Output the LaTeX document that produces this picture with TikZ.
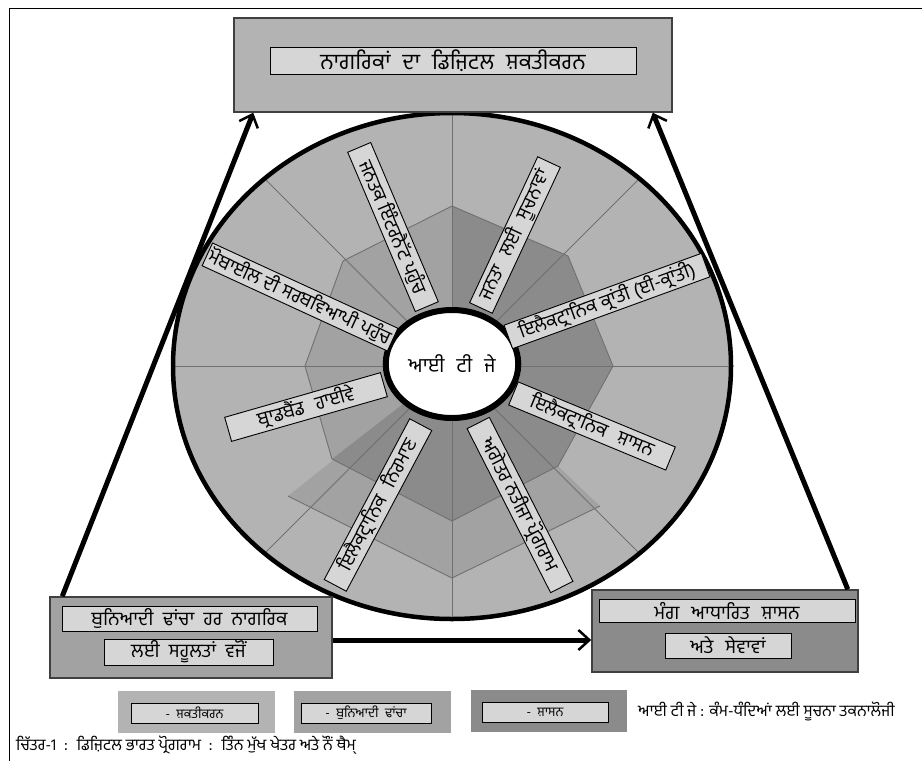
\documentclass[tikz,border=0pt]{standalone}
\usepackage{fontspec}
\newfontfamily\gur[Script=Gurmukhi]{Hind Jalandhar}
\usetikzlibrary{arrows.meta,shapes.geometric}
\definecolor{lgray}{HTML}{B3B3B3}
\definecolor{mgray}{HTML}{A2A2A2}
\definecolor{dgray}{HTML}{8B8B8B}
\definecolor{tgray}{HTML}{D6D6D6}
\definecolor{rimgray}{HTML}{707070}
\newcommand\gap{\hspace{12pt}}
\tikzset{panel/.style={draw=black!75,line width=1.5pt},
  tag/.style={draw,fill=tgray,line width=0.9pt,inner sep=0pt,minimum height=25pt,font=\gur\fontsize{19}{19}\selectfont},
  key/.style={draw,fill=tgray,line width=0.9pt,inner sep=0pt,minimum height=20pt,font=\gur\fontsize{13}{13}\selectfont},
  rim/.style={draw=rimgray,line width=0.9pt},
  bigarrow/.style={line width=5pt,-{Straight Barb[length=11pt,width=20pt,line width=2.5pt]}}}

\begin{document}
\begin{tikzpicture}[x=1pt,y=-1pt]
	\useasboundingbox (0,0) rectangle (922,761);
	\draw[line width=1pt] (9,761) |- (922,8);
	
	\coordinate (o) at (452,366);
	\begin{scope}[shift={(452,366)}]
		\clip (0,0) ellipse [x radius=281pt,y radius=255pt];
		\fill[lgray] (-300,-300) rectangle (300,300);
		\fill[mgray] (0,0) -- (-164,130) -- (0,212) -- (148,140) -- cycle;
		\fill[mgray] (0,0) -- (0,-160) -- (-109,-105) -- (-147,0) -- (-120,93) -- cycle;
		\fill[dgray] (0,0) -- (-120,93) -- (0,155) -- (106,100) -- (161,0) -- (116,-110) -- (0,-160) -- cycle;
		\foreach \a in {0,45,...,315} \draw[rim] (0,0) -- (\a:400);
		\draw[rim] (161,0) -- (116,-110) -- (0,-160) -- (-109,-105) -- (-147,0) -- (-120,93) -- (0,155) -- (106,100) -- cycle;
		\draw[rim] (-164,130) -- (0,212) -- (148,140);
	\end{scope}
	\draw[line width=4.5pt] (o) ellipse [x radius=279pt,y radius=253pt];
	\node[ellipse,draw,fill=white,line width=6pt,minimum width=118pt,minimum height=108pt,font=\gur\fontsize{20}{20}\selectfont] (itj) at (452,364) {ਆਈ\gap ਟੀ\gap ਜੇ};
	
	\foreach \n/\x/\y/\a/\w/\t in {
		pub/393/227/-67/173/ਜਨਤਕ ਇੰਟਰਨੈੱਟ ਪਹੁੰਚ,
		info/515/235/65/161/ਜਨਤਾ\gap ਲਈ\gap ਸੂਚਨਾਵਾਂ,
		kranti/607/301/20/210/ਇਲੈਕਟ੍ਰਾਨਿਕ ਕ੍ਰਾਂਤੀ (ਈ-ਕ੍ਰਾਂਤੀ),
		egov/592/426/-22.5/170/ਇਲੈਕਟ੍ਰਾਨਿਕ\gap ਸ਼ਾਸਨ,
		early/520/505/-63/184/ਅਗੇਤਰ ਨਤੀਜਾ ਪ੍ਰੋਗਰਾਮ,
		manuf/378/505/62/182/ਇਲੈਕਟ੍ਰਾਨਿਕ\gap ਨਿਰਮਾਣ,
		broad/306/407/16/162/ਬ੍ਰਾਡਬੈਂਡ\gap ਹਾਈਵੇ,
		mobile/300/297/-24.7/204/ਮੋਬਾਈਲ ਦੀ ਸਰਬਵਿਆਪੀ ਪਹੁੰਚ}
		\node[tag,rotate=\a,minimum width=\w pt] (\n) at (\x,\y) {\t};
	
	\node[panel,fill=lgray,minimum width=438pt,minimum height=94pt] (top) at (453,65) {};
	\node[tag,minimum width=366pt,minimum height=27pt,font=\gur\fontsize{22}{22}\selectfont] (topt) at (453,60.5) {ਨਾਗਰਿਕਾਂ\gap ਦਾ\gap ਡਿਜ਼ਿਟਲ\gap ਸ਼ਕਤੀਕਰਨ};
	
	\node[panel,fill=mgray,minimum width=282pt,minimum height=81pt] (bl) at (191,637.5) {};
	\node[tag,minimum width=255pt] (blt) at (189.5,618.5) {ਬੁਨਿਆਦੀ \ ਢਾਂਚਾ \ ਹਰ \ ਨਾਗਰਿਕ};
	\node[tag,minimum width=169pt,minimum height=26pt] (blb) at (188.5,652) {ਲਈ \ ਸਹੂਲਤਾਂ \ ਵਜੋਂ};
	
	\node[panel,fill=dgray,minimum width=266pt,minimum height=82pt] (br) at (725,631) {};
	\node[tag,minimum width=256pt,minimum height=23pt] (brt) at (727,610.5) {ਮੰਗ\gap ਆਧਾਰਿਤ\gap ਸ਼ਾਸਨ};
	\node[tag,minimum width=126pt] (brb) at (728,645.5) {ਅਤੇ\gap ਸੇਵਾਵਾਂ};
	
	\draw[bigarrow] ([xshift=13pt]bl.north west) -- ([xshift=20pt]top.south west);
	\draw[bigarrow] ([xshift=-11pt]br.north east) -- ([xshift=-20pt]top.south east);
	\draw[bigarrow] ([yshift=-2.5pt]bl.east) -- ([yshift=-2.5pt]bl.east -| br.west);
	
	\node[fill=lgray,minimum width=157pt,minimum height=42pt] (k1) at (196,712) {};
	\node[key,minimum width=127pt] (k1t) at (194.5,713) {- \ ਸ਼ਕਤੀਕਰਨ};
	\node[fill=mgray,minimum width=157pt,minimum height=42pt] (k2) at (372,712) {};
	\node[key,minimum width=130pt] (k2t) at (366,713) {- \ ਬੁਨਿਆਦੀ \ ਢਾਂਚਾ};
	\node[fill=dgray,minimum width=156pt,minimum height=42pt] (k3) at (549,711) {};
	\node[key,minimum width=126pt] (k3t) at (545,712) {- \ ਸ਼ਾਸਨ};
	\node[anchor=west,inner sep=0pt,font=\gur\fontsize{16}{16}\selectfont] (itjkey) at (638,712) {ਆਈ ਟੀ ਜੇ : ਕੰਮ-ਧੰਦਿਆਂ ਲਈ ਸੂਚਨਾ ਤਕਨਾਲੋਜੀ};
	\node[anchor=west,inner sep=0pt,font=\gur\fontsize{16}{16}\selectfont] (cap) at (16,745) {ਚਿੱਤਰ-1 \ : \ ਡਿਜ਼ਿਟਲ ਭਾਰਤ ਪ੍ਰੋਗਰਾਮ \ : \ ਤਿੰਨ ਮੁੱਖ ਖੇਤਰ ਅਤੇ ਨੌਂ ਥੈਮ੍};
\end{tikzpicture}
\end{document}
